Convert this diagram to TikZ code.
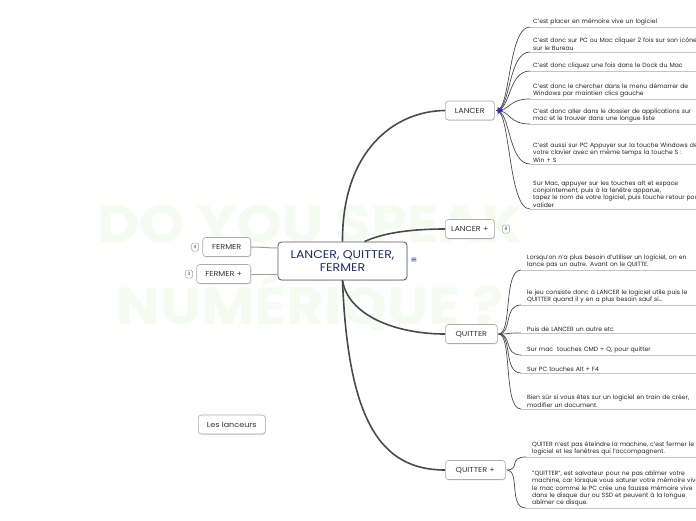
\documentclass[tikz,border=0pt]{standalone}
\usepackage{fontspec}
\setmainfont{Poppins}
\newfontfamily\widefont{Poppins}[FakeStretch=1.12]
\newfontfamily\symfont{DejaVu Sans}
\newcommand\leaffont{\fontsize{6.1}{7.3}\selectfont\spaceskip=0.42em plus 0.1em\relax}
\usetikzlibrary{shadows}
\definecolor{navy}{HTML}{1C2E6B}
\definecolor{conn}{HTML}{4A4A4A}
\definecolor{uline}{HTML}{C4C4C4}
\definecolor{wm}{HTML}{F5FBF1}
\definecolor{mblue}{HTML}{2233CC}
\tikzset{
  x=1pt,y=-1pt,
  topic/.style={draw=gray!65, line width=0.6pt, fill=white, rounded corners=3pt,
    drop shadow={opacity=0.25, shadow xshift=0.6pt, shadow yshift=-0.8pt},
    font=\widefont\fontsize{7.2}{8}\selectfont, text=black!80, inner sep=0pt, anchor=west, minimum height=19pt},
  central/.style={draw=gray!70!black, line width=0.8pt, fill=white, rounded corners=3.5pt,
    drop shadow={opacity=0.25, shadow xshift=0.6pt, shadow yshift=-0.8pt},
    font=\widefont\fontsize{11.2}{12.5}\selectfont, text=navy, align=center, minimum width=129pt, minimum height=38pt, inner sep=0pt},
  leaf/.style={anchor=south west, inner xsep=0pt, inner ysep=1.6pt, text width=220pt, align=left,
    font=\leaffont, text=black!85},
  uln/.style={draw=uline, line width=0.8pt},
  mainconn/.style={draw=conn, line width=1.6pt},
  sideconn/.style={draw=gray!75, line width=1pt},
  leafconn/.style={draw=conn, line width=0.7pt},
  badge/.style={draw=gray!70, rounded corners=1.5pt, line width=0.5pt, fill=white,
    font=\fontsize{4.5}{5}\selectfont, text=black!75, minimum width=7pt, minimum height=8pt, inner sep=0pt},
}
\begin{document}
\begin{tikzpicture}
\useasboundingbox (0,0) rectangle (696,520);
\clip (0,0) rectangle (696,520);
\fill[white] (0,0) rectangle (696,520);
% watermark
\node[font=\widefont\fontsize{52}{52}\selectfont\bfseries, text=wm] (wm1) at (310,224) {DO YOU SPEAK};
\node[font=\widefont\fontsize{52}{52}\selectfont\bfseries, text=wm] (wm2) at (310,302) {NUMÉRIQUE ?};

% nodes
\node[central] (c) at (342.5,261) {LANCER, QUITTER,\\FERMER};
\node[text=mblue, font=\symfont\fontsize{8}{8}\selectfont, inner sep=0pt] (menu) at (414,260) {≡};
\node[topic, minimum width=49pt] (lancer) at (445,110.5) {\hbox to 49pt{\hss LANCER\hss}};
\node[topic, minimum width=49pt] (lancerp) at (445,229) {\hbox to 49pt{\hss LANCER +\hss}};
\node[topic, minimum width=52pt] (quitter) at (445,334) {\hbox to 52pt{\hss QUITTER\hss}};
\node[topic, minimum width=60pt] (quitterp) at (445,470) {\hbox to 60pt{\hss QUITTER +\hss}};
\node[topic, minimum width=48pt, anchor=east] (fermer) at (251,247) {\hbox to 48pt{\hss FERMER\hss}};
\node[topic, minimum width=54pt, anchor=east] (fermerp) at (251,274) {\hbox to 54pt{\hss FERMER +\hss}};
\node[topic, minimum width=67pt] (lanceurs) at (198,424.5) {\hbox to 67pt{\hss Les lanceurs\hss}};
\node[badge] (b4) at (195,247) {4};
\node[badge] (b3) at (189,274) {3};
\node[badge] (b8) at (506,229) {8};

% main connectors
\draw[mainconn] (c.north) .. controls (342,150) and (395,111) .. (lancer.west);
\draw[mainconn] ([xshift=22pt]c.north) .. controls (385,232) and (415,229) .. (lancerp.west);
\draw[mainconn] (c.south) .. controls (348,315) and (395,334) .. (quitter.west);
\draw[mainconn] (c.south) .. controls (348,420) and (380,470) .. (quitterp.west);
\draw[sideconn] (fermer.east) .. controls (262,247) and (268,248) .. ([yshift=13pt]c.west);
\draw[sideconn] (fermerp.east) -- ([yshift=-13pt]c.west);

% LANCER leaves
\node[leaf] (a1) at (533,27) {C'est placer en mémoire vive un logiciel};
\node[leaf] (a2) at (533,52) {C'est donc sur PC ou Mac cliquer 2 fois sur son icône\\sur le Bureau};
\node[leaf] (a3) at (533,71) {C'est donc cliquez une fois dans le Dock du Mac};
\node[leaf] (a4) at (533,99) {C'est donc le chercher dans le menu démarrer de\\Windows par maintien clics gauche};
\node[leaf] (a5) at (533,124) {C'est donc aller dans le dossier de applications sur\\mac et le trouver dans une longue liste};
\node[leaf] (a6) at (533,164) {C'est aussi sur PC Appuyer sur la touche Windows de\\votre clavier avec en même temps la touche S :\\Win + S};
\node[leaf] (a7) at (533,209) {Sur Mac, appuyer sur les touches alt et espace\\conjointement, puis à la fenêtre apparue,\\tapez le nom de votre logiciel, puis touche retour pour\\valider};
\foreach \n in {a1,a2,a3,a4,a5,a6,a7}{
  \draw[uln] ([xshift=-3pt]\n.south west) -- ([xshift=220pt]\n.south west);
  \draw[leafconn] ([xshift=2pt]lancer.east) .. controls +(14,0) and +(-22,0) .. ([xshift=-3pt]\n.south west);
}
\fill[mblue] (lancer.east) ++(3,-3.5) coordinate (tri) -- ++(5.5,3.5) -- ++(-5.5,3.5) -- cycle;

% QUITTER leaves
\node[leaf] (q1) at (527,270) {Lorsqu'on n'a plus besoin d'utiliser un logiciel, on en\\lance pas un autre. Avant on le QUITTE.};
\node[leaf] (q2) at (527,305) {le jeu consiste donc à LANCER le logiciel utile puis le\\QUITTER quand il y en a plus besoin sauf si...};
\node[leaf] (q3) at (527,333) {Puis de LANCER un autre etc};
\node[leaf] (q4) at (527,355) {Sur mac\ \ touches CMD + Q, pour quitter};
\node[leaf] (q5) at (527,373) {Sur PC touches Alt + F4};
\node[leaf] (q6) at (527,409) {Bien sûr si vous êtes sur un logiciel en train de créer,\\modifier un document.};
\foreach \n in {q1,q2,q3,q4,q5,q6}{
  \draw[uln] ([xshift=-6pt]\n.south west) -- ([xshift=220pt]\n.south west);
  \draw[leafconn] ([xshift=1pt]quitter.east) .. controls +(14,0) and +(-18,0) .. ([xshift=-6pt]\n.south west);
}

% QUITTER + leaves
\node[leaf] (p1) at (532,457) {QUITER n'est pas éteindre la machine, c'est fermer le\\logiciel et les fenêtres qui l'accompagnent.};
\node[leaf] (p2) at (532,508) {"QUITTER", est salvateur pour ne pas abîmer votre\\machine, car lorsque vous saturer votre mémoire vive,\\le mac comme le PC crée une fausse mémoire vive\\dans le disque dur ou SSD et peuvent à la longue\\abîmer ce disque.};
\foreach \n in {p1,p2}{
  \draw[uln] ([xshift=-6pt]\n.south west) -- ([xshift=220pt]\n.south west);
  \draw[leafconn] ([xshift=1pt]quitterp.east) .. controls +(14,0) and +(-18,0) .. ([xshift=-6pt]\n.south west);
}
\end{tikzpicture}
\end{document}
